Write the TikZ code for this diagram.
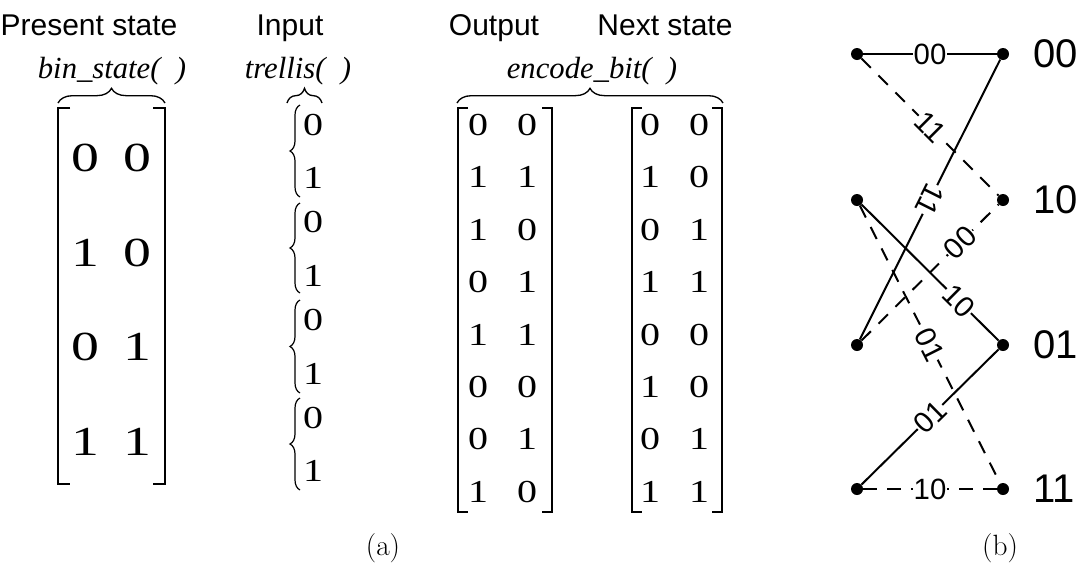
\documentclass[tikz,border=0pt]{standalone}
\usepackage{fontspec}
\newfontfamily\arialf{Liberation Sans}
\newfontfamily\timesf{Liberation Serif}
\usetikzlibrary{decorations.pathreplacing}
\newcommand{\wideA}[1]{\scalebox{1.35}[1]{#1}}
\newcommand{\wideB}[1]{\scalebox{1.25}[1]{#1}}
\begin{document}
\begin{tikzpicture}[x=0.75pt,y=-0.75pt,
  hdr/.style={font=\arialf\fontsize{22.5}{22.5}\selectfont, anchor=base, inner sep=0},
  fn/.style={font=\timesf\itshape\fontsize{23}{23}\selectfont, anchor=base, inner sep=0},
  bigd/.style={font=\timesf\fontsize{31}{31}\selectfont, inner sep=0},
  smd/.style={font=\timesf\fontsize{24}{24}\selectfont, inner sep=0},
  brk/.style={line width=1.1pt},
  obrace/.style={decorate, decoration={brace, amplitude=11pt}, line width=1pt},
  lbrace/.style={decorate, decoration={brace, amplitude=7.5pt}, line width=0.9pt},
  dot/.style={circle, fill=black, inner sep=0, minimum size=9pt},
  lbl/.style={font=\arialf\fontsize{22}{22}\selectfont, fill=white, inner sep=0.5pt},
  st/.style={font=\arialf\fontsize{30}{30}\selectfont, anchor=west, inner sep=0},
  tedge/.style={line width=1.5pt},
  dsh/.style={tedge, dash pattern=on 10pt off 8pt},
  capt/.style={font=\fontsize{22}{22}\selectfont, inner sep=0}]
\useasboundingbox (0,0) rectangle (1082,569);

% headers
\node[hdr] (hps) at (89,35) {Present state};
\node[hdr] (hin) at (290,35) {Input};
\node[hdr] (hout) at (494,35) {Output};
\node[hdr] (hns) at (665,35) {Next state};
\node[fn] (fbin) at (112,78) {bin\_state(\ \ )};
\node[fn] (ftr) at (298,78) {trellis(\ \ )};
\node[fn] (fenc) at (592,78) {encode\_bit(\ \ )};

% over-braces
\draw[obrace] (58,103) -- (165,103);
\draw[obrace] (287,103) -- (322,103);
\draw[obrace] (457,103) -- (723,103);

% present state matrix
\draw[brk] (70,108) -- (58,108) -- (58,484) -- (70,484);
\draw[brk] (153,108) -- (165,108) -- (165,484) -- (153,484);
\foreach \r/\a/\b [count=\i] in {158/0/0,253/1/0,347/0/1,442/1/1}{
  \node[bigd] (ps\i a) at (85,\r) {\wideA{\a}};
  \node[bigd] (ps\i b) at (137,\r) {\wideA{\b}};
}

% input braces
\foreach \t/\bt [count=\i] in {105/197,203/293,300/393,398/490}{
  \draw[lbrace] (300,\bt) -- (300,\t);
}
\foreach \r/\v [count=\i] in {125/0,178/1,222/0,276/1,320/0,374/1,418/0,471/1}{
  \node[smd] (in\i) at (313,\r) {\wideB{\v}};
}

% output and next state matrices
\draw[brk] (468,108) -- (458,108) -- (458,512) -- (468,512);
\draw[brk] (542,108) -- (552,108) -- (552,512) -- (542,512);
\draw[brk] (642,108) -- (632,108) -- (632,512) -- (642,512);
\draw[brk] (712,108) -- (722,108) -- (722,512) -- (712,512);
\foreach \oa/\ob/\na/\nb [count=\i] in {0/0/0/0,1/1/1/0,1/0/0/1,0/1/1/1,1/1/0/0,0/0/1/0,0/1/0/1,1/0/1/1}{
  \pgfmathsetmacro{\yy}{125+52.4*(\i-1)}
  \node[smd] (out\i a) at (478,\yy) {\wideB{\oa}};
  \node[smd] (out\i b) at (527,\yy) {\wideB{\ob}};
  \node[smd] (ns\i a) at (650,\yy) {\wideB{\na}};
  \node[smd] (ns\i b) at (699,\yy) {\wideB{\nb}};
}

% trellis
\node[dot] (L00) at (857,54) {};
\node[dot] (L10) at (857,200) {};
\node[dot] (L01) at (857,345) {};
\node[dot] (L11) at (857,489) {};
\node[dot] (R00) at (1003,54) {};
\node[dot] (R10) at (1003,200) {};
\node[dot] (R01) at (1003,345) {};
\node[dot] (R11) at (1003,489) {};
\node[st] (s00) at (1033,54) {00};
\node[st] (s10) at (1033,200) {10};
\node[st] (s01) at (1033,345) {01};
\node[st] (s11) at (1033,489) {11};

\draw[tedge] (L01) -- node[lbl, pos=0.5, rotate=-116.6] {11} (R00);
\draw[dsh] (L01) -- node[lbl, pos=0.72, sloped] {00} (R10);
\draw[tedge] (L10) -- node[lbl, pos=0.71, sloped] {10} (R01);
\draw[dsh] (L10) -- node[lbl, pos=0.5, sloped] {01} (R11);
\draw[tedge] (L11) -- node[lbl, pos=0.5, sloped] {01} (R01);
\draw[dsh] (L00) -- node[lbl, pos=0.5, sloped] {11} (R10);
\draw[tedge] (L00) -- node[lbl, pos=0.5] {00} (R00);
\draw[dsh] (L11) -- node[lbl, pos=0.5] {10} (R11);

% captions
\node[capt] (capa) at (383,548) {(a)};
\node[capt] (capb) at (1000,548) {(b)};
\end{tikzpicture}
\end{document}
